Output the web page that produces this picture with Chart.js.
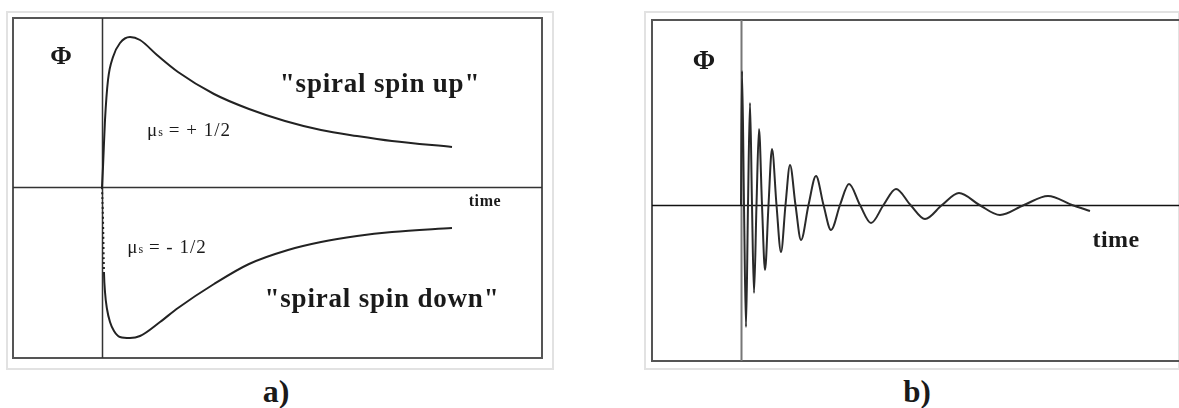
<!DOCTYPE html>
<html>
<head>
<meta charset="utf-8">
<script src="https://cdn.jsdelivr.net/npm/chart.js@4"></script>
<style>
  body { margin: 0; width: 1179px; height: 408px; background: #fff; position: relative; overflow: hidden; font-family: "Liberation Serif", "Times New Roman", serif; }
  .outer { position: absolute; border: 2px solid #e2e2e2; box-sizing: border-box; }
  .box { position: absolute; }
  .lbl { position: absolute; white-space: nowrap; color: #1a1a1a; line-height: 1; transform: translate(-50%, -50%); }
  .b { font-weight: bold; }
  .mu { font-size: 19px; letter-spacing: 1px; }
  .mu span { font-size: 12px; letter-spacing: 0; }
</style>
</head>
<body>
<div class="outer" style="left:6px; top:11px; width:548px; height:359px;"></div>
<div class="outer" style="left:644px; top:11px; width:536px; height:359px;"></div>

<div class="box" style="left:11px; top:16px; width:533px; height:344px;"><canvas id="panelA"></canvas></div>
<div class="box" style="left:650px; top:18px; width:533px; height:345px;"><canvas id="panelB"></canvas></div>

<div class="lbl b" style="left:61px; top:56px; font-size:26px;">Φ</div>
<div class="lbl b" style="left:380px; top:83px; font-size:27px; letter-spacing:0.8px;">"spiral spin up"</div>
<div class="lbl mu" style="left:189px; top:129px;">μ<span>s</span> = + 1/2</div>
<div class="lbl b" style="left:485px; top:201px; font-size:16px; letter-spacing:0.6px;">time</div>
<div class="lbl mu" style="left:167px; top:246px;">μ<span>s</span> = - 1/2</div>
<div class="lbl b" style="left:382px; top:298px; font-size:27px; letter-spacing:0.8px;">"spiral spin down"</div>
<div class="lbl b" style="left:276px; top:391px; font-size:32px;">a)</div>

<div class="lbl b" style="left:704px; top:60px; font-size:27px;">Φ</div>
<div class="lbl b" style="left:1116px; top:239px; font-size:24px; letter-spacing:0.4px;">time</div>
<div class="lbl b" style="left:917px; top:391px; font-size:31px;">b)</div>

<script>
// panel a: spin up / spin down curves (time, phi)
const upTime = [0, 0.01, 0.03, 0.06, 0.11, 0.18, 0.28, 0.38, 0.55, 0.76, 1.12, 1.47, 1.83, 2.19, 2.55, 2.90, 3.50];
const upPhi  = [0, 0.20, 0.67, 1.07, 1.30, 1.44, 1.50, 1.47, 1.32, 1.15, 0.93, 0.78, 0.66, 0.57, 0.51, 0.46, 0.40];
const downTime = [0, 0.01, 0.02, 0.03, 0.05, 0.08, 0.12, 0.18, 0.28, 0.38, 0.58, 0.76, 1.12, 1.47, 1.86, 2.19, 2.55, 2.90, 3.50];
const downPhi  = [0, -0.33, -0.86, -1.05, -1.22, -1.35, -1.44, -1.50, -1.51, -1.49, -1.35, -1.21, -0.97, -0.77, -0.63, -0.55, -0.49, -0.45, -0.41];

// panel b: damped oscillation (time, phi)
const ringTime = [0, 0.01, 0.03, 0.05, 0.07, 0.09, 0.11, 0.13, 0.155, 0.18, 0.21, 0.24, 0.275, 0.31, 0.355, 0.40, 0.445, 0.49,
                  0.545, 0.60, 0.675, 0.75, 0.825, 0.90, 0.99, 1.08, 1.19, 1.30, 1.425, 1.55, 1.695, 1.84, 2.01, 2.18,
                  2.385, 2.59, 2.83, 3.07, 3.31, 3.49];
const ringPhi  = [0, 1.34, 0, -1.22, 0, 1.02, 0, -0.88, 0, 0.76, 0, -0.65, 0, 0.56, 0, -0.47, 0, 0.40,
                  0, -0.35, 0, 0.29, 0, -0.25, 0, 0.21, 0, -0.18, 0, 0.16, 0, -0.14, 0, 0.12,
                  0, -0.10, 0, 0.09, 0, -0.06];

const pts = (xs, ys) => xs.map((x, i) => ({ x: x, y: ys[i] }));

// draws the plot frame and the two zero axes from the scales
const framePlugin = {
  id: 'frame',
  beforeDatasetsDraw(chart, args, opts) {
    const { ctx, chartArea: a, scales } = chart;
    ctx.save();
    ctx.strokeStyle = opts.frameColor;
    ctx.lineWidth = 2;
    ctx.strokeRect(a.left, a.top, a.right - a.left, a.bottom - a.top);
    const x0 = Math.round(scales.x.getPixelForValue(0)) + 0.5;
    const y0 = Math.round(scales.y.getPixelForValue(0)) + 0.5;
    ctx.lineWidth = opts.vWidth;
    ctx.strokeStyle = opts.vColor;
    ctx.beginPath(); ctx.moveTo(x0, a.top); ctx.lineTo(x0, a.bottom); ctx.stroke();
    ctx.lineWidth = opts.hWidth;
    ctx.strokeStyle = opts.hColor;
    ctx.beginPath(); ctx.moveTo(a.left, y0); ctx.lineTo(a.right, y0); ctx.stroke();
    ctx.restore();
  }
};

function makeChart(id, datasets, xr, yr, frame) {
  return new Chart(document.getElementById(id), {
    type: 'line',
    data: { datasets: datasets },
    options: {
      responsive: true,
      maintainAspectRatio: false,
      animation: false,
      layout: { padding: 2 },
      elements: { point: { radius: 0 } },
      plugins: { legend: { display: false }, tooltip: { enabled: false }, frame: frame },
      scales: {
        x: { type: 'linear', min: xr[0], max: xr[1], display: false },
        y: { type: 'linear', min: yr[0], max: yr[1], display: false }
      }
    },
    plugins: [framePlugin]
  });
}

makeChart('panelA', [
  { data: pts(upTime, upPhi), borderColor: '#222', borderWidth: 2, cubicInterpolationMode: 'monotone' },
  { data: pts(downTime, downPhi), borderColor: '#222', borderWidth: 2, cubicInterpolationMode: 'monotone',
    segment: { borderDash: c => c.p1DataIndex <= 2 ? [2, 3] : undefined } }
], [-0.89, 4.40], [-1.71, 1.69], { frameColor: '#555', vColor: '#333', vWidth: 1.5, hColor: '#333', hWidth: 1.5 });

makeChart('panelB', [
  { data: pts(ringTime, ringPhi), borderColor: '#2a2a2a', borderWidth: 2, cubicInterpolationMode: 'monotone' }
], [-0.89, 4.40], [-1.56, 1.85], { frameColor: '#555', vColor: '#777', vWidth: 2, hColor: '#111', hWidth: 1.5 });
</script>
</body>
</html>
